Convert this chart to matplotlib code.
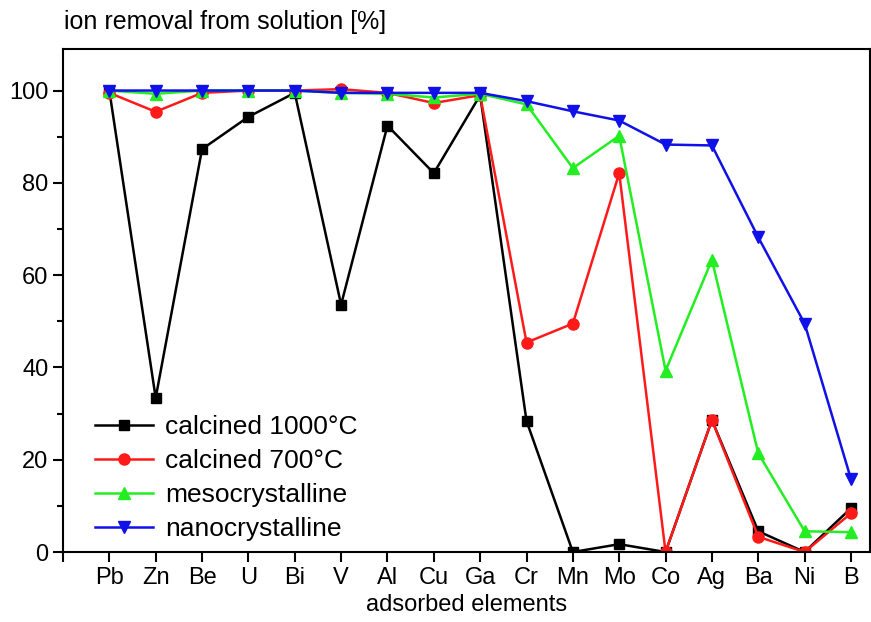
import numpy as np
import matplotlib
matplotlib.use("Agg")
import matplotlib.pyplot as plt
from matplotlib.ticker import MultipleLocator

plt.rcParams['font.family'] = ['Liberation Sans', 'DejaVu Sans']

# elements on the x axis
elements = ["Pb", "Zn", "Be", "U", "Bi", "V", "Al", "Cu", "Ga",
            "Cr", "Mn", "Mo", "Co", "Ag", "Ba", "Ni", "B"]

# ion removal [%]
calc_1000 = [100, 33.4, 87.3, 94.3, 99.5, 53.6, 92.4, 82.1, 99.0,
             28.4, 0.0, 1.7, 0.0, 28.6, 4.5, 0.0, 9.5]
calc_700 = [99.5, 95.4, 99.5, 100, 100, 100.3, 99.5, 97.3, 99.0,
            45.4, 49.5, 82.1, 0.0, 28.6, 3.3, 0.0, 8.4]
meso = [100, 99.3, 100, 100, 100, 99.5, 99.3, 98.5, 99.3,
        97.0, 83.2, 90.2, 39.3, 63.3, 21.4, 4.5, 4.3]
nano = [100, 100, 100, 100, 100, 99.5, 99.5, 99.5, 99.5,
        97.7, 95.5, 93.5, 88.3, 88.1, 68.2, 49.5, 15.8]

x = np.arange(1, len(elements) + 1)

fig = plt.figure(figsize=(8.71, 6.22), dpi=100)
ax = fig.add_axes([0.0723, 0.1125, 0.926, 0.8087])

ax.plot(x, calc_1000, color='black', marker='s', ms=7, lw=1.8, label='calcined 1000°C')
ax.plot(x, calc_700, color='#ff1a1a', marker='o', ms=8, lw=1.8, label='calcined 700°C')
ax.plot(x, meso, color='#22ee22', marker='^', ms=8, lw=1.8, label='mesocrystalline')
ax.plot(x, nano, color='#1010e8', marker='v', ms=8, lw=1.8, label='nanocrystalline')

ax.set_xlim(0, 17.4)
ax.set_ylim(0, 109)
ax.set_xticks(np.arange(0, 18))
ax.set_xticklabels([""] + elements)
ax.yaxis.set_major_locator(MultipleLocator(20))
ax.yaxis.set_minor_locator(MultipleLocator(10))
ax.tick_params(axis='both', which='major', direction='out', length=7, width=1.5,
               labelsize=17, top=False, right=False)
ax.tick_params(axis='y', which='minor', direction='out', length=4, width=1.5, right=False)
ax.tick_params(axis='x', which='minor', bottom=False)
for s in ax.spines.values():
    s.set_linewidth(1.5)

ax.set_xlabel("adsorbed elements", fontsize=17, labelpad=4)
fig.text(0.074, 0.965, "ion removal from solution [%]", fontsize=18, va='center', ha='left')

leg = ax.legend(loc='lower left', bbox_to_anchor=(0.01, -0.025), frameon=False,
                fontsize=19, handlelength=2.2, handletextpad=0.45, labelspacing=0.38)

fig.savefig("out.png", dpi=100)
